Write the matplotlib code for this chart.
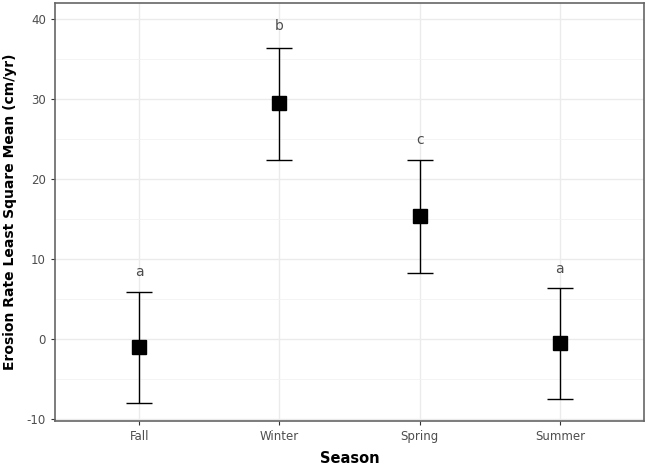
import matplotlib.pyplot as plt
from matplotlib.ticker import MultipleLocator

plt.rcParams['axes.unicode_minus'] = False

seasons = ['Fall', 'Winter', 'Spring', 'Summer']
lsmean = [-1.1, 29.5, 15.3, -0.6]
upper = [5.8, 36.4, 22.3, 6.3]
lower = [-8.0, 22.4, 8.2, -7.6]
groups = ['a', 'b', 'c', 'a']
label_y = [8.3, 39.1, 24.9, 8.7]

x = range(1, len(seasons) + 1)
err_lo = [m - l for m, l in zip(lsmean, lower)]
err_hi = [u - m for m, u in zip(lsmean, upper)]

fig = plt.figure(figsize=(6.45, 4.66), dpi=100)
ax = fig.add_axes([55 / 645, 45 / 466, 589 / 645, 418 / 466])

ax.errorbar(x, lsmean, yerr=[err_lo, err_hi], fmt='s', color='black',
            ecolor='black', elinewidth=1.0, capsize=9.5, capthick=1.0,
            markersize=9.5, zorder=3)

for xi, g, ly in zip(x, groups, label_y):
    ax.text(xi, ly, g, ha='center', va='center', fontsize=10, color='#4d4d4d')

ax.set_xlim(0.4, 4.6)
ax.set_ylim(-10.3, 42.0)
ax.set_xticks(list(x))
ax.set_xticklabels(seasons)
ax.yaxis.set_major_locator(MultipleLocator(10))
ax.yaxis.set_minor_locator(MultipleLocator(5))

ax.grid(True, which='major', color='#ebebeb', linewidth=1.0)
ax.grid(True, which='minor', axis='y', color='#f2f2f2', linewidth=0.6)
ax.set_axisbelow(True)

for side in ax.spines.values():
    side.set_color('#666666')
    side.set_linewidth(1.2)

ax.tick_params(axis='both', which='major', length=3, color='#333333',
               labelsize=8.5, labelcolor='#4d4d4d')
ax.tick_params(axis='y', which='minor', length=0)

ax.set_xlabel('Season', fontsize=10.5, fontweight='bold', labelpad=6)
ax.set_ylabel('Erosion Rate Least Square Mean (cm/yr)', fontsize=10,
              fontweight='bold', labelpad=7)

fig.savefig('out.png', dpi=100)
